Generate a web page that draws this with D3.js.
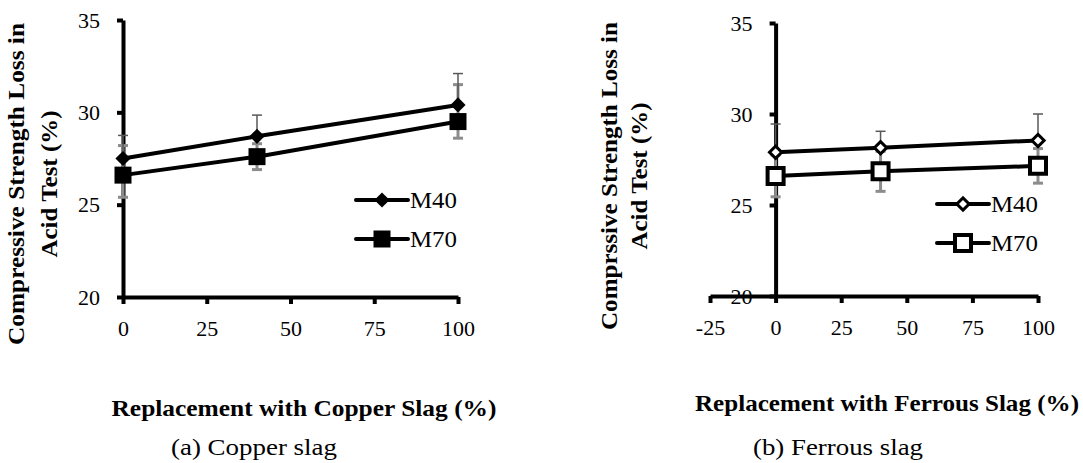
<!DOCTYPE html>
<html>
<head>
<meta charset="utf-8">
<script src="https://cdn.jsdelivr.net/npm/d3@7"></script>
</head>
<body style="margin:0">
<div id="chart"></div>
<script>
const FONT = "Liberation Serif";

// replacement levels (%)
const levels = [0, 40, 100];

// (a) copper slag
const copperM40 = [27.5, 28.7, 30.4];
const copperM40Err = [1.25, 1.15, 1.7];
const copperM70 = [26.6, 27.6, 29.5];
const copperM70ErrUp = [1.6, 0.7, 2.0];
const copperM70ErrDown = [1.2, 0.7, 0.9];

// (b) ferrous slag
const ferrousM40 = [27.9, 28.15, 28.55];
const ferrousM40Err = [1.55, 0.9, 1.45];
const ferrousM70 = [26.6, 26.85, 27.15];
const ferrousM70ErrUp = [1.15, 1.1, 0.95];
const ferrousM70ErrDown = [1.15, 1.1, 0.95];

const yTicks = [20, 25, 30, 35];
const copperXTicks = [0, 25, 50, 75, 100];
const ferrousXTicks = [-25, 0, 25, 50, 75, 100];

const svg = d3.select("#chart").append("svg")
    .attr("width", 1083)
    .attr("height", 463)
    .attr("font-family", FONT);

// text helper, the source picture is a bit stretched sideways so fix the width
function label(parent, str, size, bold, len) {
    const t = parent.append("text")
        .attr("font-family", FONT)
        .style("font-family", `"${FONT}"`)
        .attr("font-size", size)
        .attr("fill", "#000")
        .text(str);
    if (bold) t.attr("font-weight", "bold");
    if (len) t.attr("textLength", len).attr("lengthAdjust", "spacingAndGlyphs");
    return t;
}

function drawPanel(cfg) {
    const g = svg.append("g");
    const x = d3.scaleLinear().domain(cfg.xDomain).range(cfg.xRange);
    const y = d3.scaleLinear().domain([20, 35]).range(cfg.yRange);

    // y axis (labels under the x axis line)
    const yAx = g.append("g")
        .attr("transform", `translate(${x(0)},0)`)
        .call(d3.axisLeft(y).tickValues(yTicks).tickFormat(d => String(d))
            .tickSize(6).tickSizeOuter(0).tickPadding(17));
    // x axis
    const xAx = g.append("g")
        .attr("transform", `translate(0,${y(20)})`)
        .call(d3.axisBottom(x).tickValues(cfg.xTicks).tickFormat(d => String(d))
            .tickSize(7).tickSizeOuter(0).tickPadding(16));
    [yAx, xAx].forEach(ax => {
        ax.attr("font-family", FONT).attr("font-size", 22);
        ax.select(".domain").attr("stroke", "#000").attr("stroke-width", 4);
        ax.selectAll(".tick line").attr("stroke", "#000").attr("stroke-width", 4);
        ax.selectAll(".tick text").attr("fill", "#000")
            .attr("font-family", FONT).style("font-family", `"${FONT}"`);
    });
    xAx.raise();

    // error bars
    const errGroup = g.append("g");
    function errBars(vals, up, down, color, width, cap) {
        levels.forEach((lv, i) => {
            const cx = x(lv);
            const top = y(vals[i] + up[i]);
            const bot = y(vals[i] - down[i]);
            errGroup.append("line").attr("x1", cx).attr("x2", cx)
                .attr("y1", top).attr("y2", bot)
                .attr("stroke", color).attr("stroke-width", width);
            if (up[i] > 0) errGroup.append("line").attr("x1", cx - cap).attr("x2", cx + cap)
                .attr("y1", top).attr("y2", top)
                .attr("stroke", color).attr("stroke-width", width);
            if (down[i] > 0) errGroup.append("line").attr("x1", cx - cap).attr("x2", cx + cap)
                .attr("y1", bot).attr("y2", bot)
                .attr("stroke", color).attr("stroke-width", width);
        });
    }
    errBars(cfg.m70, cfg.m70Up, cfg.m70Down, "#8c8c8c", 3, 5);
    errBars(cfg.m40, cfg.m40Err, cfg.m40Err.map(() => 0), "#595959", 1.5, 5);

    const line = d3.line().x((d, i) => x(levels[i])).y(d => y(d));
    [cfg.m40, cfg.m70].forEach(s => {
        g.append("path").datum(s)
            .attr("fill", "none").attr("stroke", "#000").attr("stroke-width", 4)
            .attr("d", line);
    });

    const diamond = d3.symbol(d3.symbolSquare, cfg.diamondSize);
    const square = d3.symbol(d3.symbolSquare, cfg.squareSize);
    const mk = (sel, sym, rot, sw) => sel
        .attr("d", sym)
        .attr("fill", cfg.hollow ? "#fff" : "#000")
        .attr("stroke", "#000").attr("stroke-width", sw)
        .attr("transform", d => `translate(${d[0]},${d[1]}) rotate(${rot})`);

    mk(g.append("g").selectAll("path")
        .data(cfg.m40.map((v, i) => [x(levels[i]), y(v)])).join("path"), diamond, 45, cfg.hollow ? 3 : 0);
    mk(g.append("g").selectAll("path")
        .data(cfg.m70.map((v, i) => [x(levels[i]), y(v)])).join("path"), square, 0, cfg.hollow ? 4 : 0);

    // legend
    const lg = g.append("g");
    [["M40", diamond, 45, 3], ["M70", square, 0, 4]].forEach((it, k) => {
        const ly = cfg.legendY + k * 39;
        lg.append("line").attr("x1", cfg.legendX).attr("x2", cfg.legendX + 52)
            .attr("y1", ly).attr("y2", ly)
            .attr("stroke", "#000").attr("stroke-width", 4).attr("stroke-linecap", "round");
        mk(lg.append("path").datum([cfg.legendX + 26, ly]), it[1], it[2], cfg.hollow ? it[3] : 0);
        label(lg, it[0], 23, false, 47).attr("x", cfg.legendX + 54).attr("y", ly).attr("dy", "0.35em");
    });

    // y title, two lines
    const yt = g.append("g")
        .attr("transform", `translate(${cfg.yTitleX},${cfg.yTitleY}) rotate(-90)`);
    label(yt, cfg.yTitle, 23, true, cfg.yTitleLen).attr("text-anchor", "middle").attr("y", 0);
    label(yt, "Acid Test (%)", 23, true, 147).attr("text-anchor", "middle").attr("y", cfg.yTitleGap);

    // x title & caption
    label(g, cfg.xTitle, 23, true, cfg.xTitleLen)
        .attr("x", cfg.xTitleX).attr("y", cfg.xTitleY).attr("text-anchor", "middle");
    label(g, cfg.caption, 23, false, cfg.captionLen)
        .attr("x", cfg.captionX).attr("y", 455).attr("text-anchor", "middle");
}

drawPanel({
    xDomain: [0, 100], xRange: [123, 458], yRange: [297, 20], xTicks: copperXTicks,
    m40: copperM40, m40Err: copperM40Err,
    m70: copperM70, m70Up: copperM70ErrUp, m70Down: copperM70ErrDown,
    hollow: false, diamondSize: 115, squareSize: 289,
    legendX: 356, legendY: 200,
    yTitle: "Compressive Strength Loss in", yTitleLen: 322, yTitleX: 24, yTitleY: 184, yTitleGap: 33,
    xTitle: "Replacement with Copper Slag (%)", xTitleLen: 385, xTitleX: 304, xTitleY: 416,
    caption: "(a) Copper slag", captionLen: 166, captionX: 254
});

drawPanel({
    xDomain: [-25, 100], xRange: [710, 1038], yRange: [296, 23], xTicks: ferrousXTicks,
    m40: ferrousM40, m40Err: ferrousM40Err,
    m70: ferrousM70, m70Up: ferrousM70ErrUp, m70Down: ferrousM70ErrDown,
    hollow: true, diamondSize: 75, squareSize: 256,
    legendX: 937, legendY: 204,
    yTitle: "Comprssive Strength Loss in", yTitleLen: 308, yTitleX: 617, yTitleY: 176, yTitleGap: 30,
    xTitle: "Replacement with Ferrous Slag (%)", xTitleLen: 384, xTitleX: 887, xTitleY: 411,
    caption: "(b) Ferrous slag", captionLen: 170, captionX: 838
});
</script>
</body>
</html>
